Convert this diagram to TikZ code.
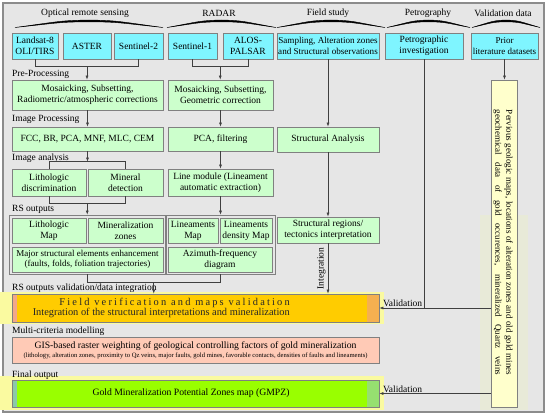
\documentclass[tikz,border=0pt]{standalone}
\usepackage{fontspec}
\setmainfont{Liberation Serif}
\usetikzlibrary{arrows.meta,calc,positioning}

\definecolor{bgcol}{HTML}{E6E6E6}
\definecolor{framecol}{HTML}{8C8C8C}
\definecolor{boxline}{HTML}{808080}
\definecolor{linecol}{HTML}{404040}
\definecolor{srccol}{HTML}{7FF5FF}
\definecolor{proccol}{HTML}{CCFFCC}
\definecolor{datacol}{HTML}{FFFFCC}
\definecolor{fieldcol}{HTML}{FFCC00}
\definecolor{fieldleft}{HTML}{F2A888}
\definecolor{fieldright}{HTML}{F5B050}
\definecolor{modcol}{HTML}{FFCAB6}
\definecolor{finalcol}{HTML}{99FF00}
\definecolor{finalleft}{HTML}{8CC8A8}
\definecolor{finalright}{HTML}{96E070}
\definecolor{hlcol}{HTML}{FAFAA0}
\definecolor{bandcol}{HTML}{E8EAD8}

\begin{document}
\begin{tikzpicture}[
  x=1pt, y=-1pt,
  every node/.style={inner sep=1pt, align=center, font=\fontsize{9.5}{11}\selectfont},
  srcbox/.style={draw=boxline, line width=0.8pt, fill=srccol, minimum height=26pt},
  procbox/.style={draw=boxline, line width=0.8pt, fill=proccol},
  grpbox/.style={draw=boxline, line width=0.6pt, inner sep=0pt},
  wide/.style={draw=boxline, line width=0.8pt, minimum width=367pt, inner sep=0pt},
  fieldbox/.style={wide, fill=fieldcol, path picture={
    \fill[fieldleft] (path picture bounding box.north west) rectangle ([xshift=5pt]path picture bounding box.south west);
    \fill[fieldright] ([xshift=-12pt]path picture bounding box.north east) rectangle (path picture bounding box.south east);}},
  finalbox/.style={wide, fill=finalcol, path picture={
    \fill[finalleft] (path picture bounding box.north west) rectangle ([xshift=5pt]path picture bounding box.south west);
    \fill[finalright] ([xshift=-12pt]path picture bounding box.north east) rectangle (path picture bounding box.south east);}},
  lbl/.style={anchor=west},
  arrow/.style={-{Latex[length=4pt,width=3pt]}, draw=linecol, line width=0.6pt},
  link/.style={draw=linecol, line width=0.6pt}
]
\useasboundingbox (0,0) rectangle (550,417);
\draw[framecol, line width=1.2pt, fill=bgcol] (3,3) rectangle (544,412);

% highlight bands behind the lower rows
\fill[hlcol] (0,292) rectangle (384,324);
\fill[hlcol] (0,376) rectangle (384,410);
\fill[bandcol] (480,215) rectangle (528,410);

% column headers
\node (hopt) at (85,13) {Optical remote sensing};
\node (hrad) at (219,13) {RADAR};
\node (hfield) at (328,13) {Field study};
\node (hpetro) at (428,13) {Petrography};
\node (hval) at (503,13) {Validation data};
\foreach \xa/\xb in {15/163, 167/276, 277/385, 387/470, 472/540} {
  \pgfmathsetmacro{\xm}{(\xa+\xb)/2}
  \pgfmathsetmacro{\wq}{0.3*(\xb-\xa)}
  \pgfmathsetmacro{\wm}{0.2*(\xb-\xa)}
  \fill[draw, line width=0.4pt] (\xa,27.5) .. controls (\xa+\wq,21.5) and (\xm-\wm,20.5) .. (\xm,20)
    .. controls (\xm+\wm,20.5) and (\xb-\wq,21.5) .. (\xb,27.5)
    .. controls (\xb-\wq,22.8) and (\xm+\wm,22) .. (\xm,21.8)
    .. controls (\xm-\wm,22) and (\xa+\wq,22.8) .. cycle;
}

% data sources
\node[srcbox, minimum width=46pt] (landsat) at (35,46) {Landsat-8\\OLI/TIRS};
\node[srcbox, minimum width=48pt] (aster) at (87,46) {ASTER};
\node[srcbox, minimum width=49pt] (sen2) at (138.5,46) {Sentinel-2};
\node[srcbox, minimum width=49pt] (sen1) at (192.5,46) {Sentinel-1};
\node[srcbox, minimum width=50pt] (alos) at (248,46) {ALOS-\\PALSAR};
\node[srcbox, minimum width=102pt, inner sep=0pt, font=\fontsize{9.1}{11}\selectfont] (sampling) at (328,46) {Sampling, Alteration zones\\and Structural observations};
\node[srcbox, minimum width=78pt] (petro) at (424,46) {Petrographic\\investigation};
\node[srcbox, minimum width=67pt, inner sep=0pt, font=\fontsize{9}{11}\selectfont] (prior) at (504.5,46) {Prior\\literature datasets};

% stage labels
\node[lbl] (lpre) at (11,74.5) {Pre-Processing};
\node[lbl] (limg) at (11,119) {Image Processing};
\node[lbl] (lana) at (11,158) {Image analysis};
\node[lbl] (lrs) at (11,209.5) {RS outputs};
\node[lbl] (lint) at (11,288) {RS outputs validation/data integration};
\node[lbl] (lmod) at (11,331.5) {Multi-criteria modelling};
\node[lbl] (lfin) at (11,375) {Final output};

% processing
\node[procbox, minimum width=151pt, minimum height=30pt] (preopt) at (87.5,95) {Mosaicking, Subsetting,\\Radiometric/atmospheric corrections};
\node[procbox, minimum width=105pt, minimum height=30pt] (prerad) at (220.5,95) {Mosaicking, Subsetting,\\Geometric correction};
\node[procbox, minimum width=151pt, minimum height=24pt] (imgopt) at (87.5,139) {FCC, BR, PCA, MNF, MLC, CEM};
\node[procbox, minimum width=105pt, minimum height=24pt] (imgrad) at (220.5,139) {PCA, filtering};
\node[procbox, minimum width=102pt, minimum height=25pt] (structan) at (328,139.5) {Structural Analysis};

% analysis
\node[procbox, minimum width=74pt, minimum height=27pt] (litho) at (49,182.5) {Lithologic\\discrimination};
\node[procbox, minimum width=75pt, minimum height=27pt] (mineral) at (125.5,182.5) {Mineral\\detection};
\node[procbox, minimum width=105pt, minimum height=27pt] (linemod) at (220.5,182.5) {Line module (Lineament\\automatic extraction)};

% RS outputs
\node[grpbox, minimum width=156pt, minimum height=59pt] (optgrp) at (87,244.5) {};
\node[grpbox, minimum width=109pt, minimum height=59pt] (radgrp) at (220.5,244.5) {};
\node[procbox, minimum width=74pt, minimum height=25pt] (litmap) at (49,230.5) {Lithologic\\Map};
\node[procbox, minimum width=75pt, minimum height=25pt] (minzone) at (125.5,230.5) {Mineralization\\zones};
\node[procbox, minimum width=151pt, minimum height=25pt, font=\fontsize{9}{10.5}\selectfont] (majstr) at (87.5,259.5) {Major structural elements enhancement\\(faults, folds, foliation trajectories)};
\node[procbox, minimum width=50pt, minimum height=25pt] (linmap) at (193,230.5) {Lineaments\\Map};
\node[procbox, minimum width=52pt, minimum height=25pt] (lindens) at (246,230.5) {Lineaments\\density Map};
\node[procbox, minimum width=104pt, minimum height=25pt] (azimuth) at (220,259.5) {Azimuth-frequency\\diagram};
\node[procbox, minimum width=102pt, minimum height=26pt] (structreg) at (328,230) {Structural regions/\\tectonics interpretation};

% integration, modelling, output
\node[fieldbox, minimum height=28pt] (fieldver) at (195.5,308) {};
\node[anchor=east, align=right, font=\fontsize{10.4}{10.6}\selectfont, text=black!85] (fvtext) at (291,308) {{\addfontfeature{LetterSpace=21}Field verification and maps validation}\hspace{-2pt}\\Integration of the structural interpretations and mineralization};
\node[wide, fill=modcol, minimum height=26pt, font=\fontsize{9.7}{9}\selectfont] (gis) at (195.5,350) {GIS-based raster weighting of geological controlling factors of gold mineralization\\{\fontsize{6.6}{8}\selectfont(lithology, alteration zones, proximity to Qz veins, major faults, gold mines, favorable contacts, densities of faults and lineaments)}};
\node[finalbox, minimum height=27pt] (gmpz) at (195.5,393.5) {};
\node[font=\fontsize{9.7}{12}\selectfont] (gmpztext) at (191,393.5) {Gold Mineralization Potential Zones map (GMPZ)};

% validation data
\node[draw=boxline, line width=0.8pt, fill=datacol, minimum width=26pt, minimum height=327pt, inner sep=0pt] (prevdata) at (504,243.5) {};
\node[rotate=-90, inner sep=0pt, font=\fontsize{9}{11}\selectfont] (prevtext) at (503,242.5) {\makebox[265pt][s]{Pervious geologic maps, locations of alteration zones and old gold mines}\\\makebox[265pt][s]{geochemical data of gold occurences, mineralized Quartz veins}};

% connectors
\draw[link] (landsat.south) -- ++(0,7) -| (sen2.south);
\draw[arrow] ($(aster.south)+(0,7)$) -- (aster.south |- preopt.north);
\draw[link] (sen1.south) -- ++(0,7) -| (alos.south);
\coordinate (radjoin) at ($(sen1.south)!.5!(alos.south)+(0,7)$);
\draw[arrow] (radjoin) -- (radjoin |- prerad.north);
\draw[arrow] (preopt) -- (imgopt);
\draw[arrow] (prerad) -- (imgrad);
\draw[arrow] (sampling) -- (structan);
\draw[arrow] (prior.south) -- (prior.south |- prevdata.north);

\draw[link] (litho.north) -- ++(0,-7) -| (mineral.north);
\coordinate (anatop) at ($(litho.north)!.5!(mineral.north)+(0,-7)$);
\draw[arrow] (imgopt.south) -- (imgopt.south |- anatop);
\draw[arrow] (imgrad) -- (linemod);
\draw[arrow] (structan) -- (structreg);

\draw[link] (litho.south) -- ++(0,7) -| (mineral.south);
\coordinate (anabot) at ($(litho.south)!.5!(mineral.south)+(0,7)$);
\draw[arrow] (anabot) -- (anabot |- optgrp.north);
\draw[arrow] (linemod) -- (radgrp);

\draw[link] (optgrp.south) -- ++(0,8) -| (radgrp.south);
\coordinate (rsjoin) at ($(optgrp.south)!.5!(radgrp.south)+(0,8)$);
\draw[arrow] (rsjoin) -- (rsjoin |- fieldver.north);
\draw[arrow] (structreg) -- node[midway, rotate=90, anchor=south, inner sep=2pt] (integ) {Integration} (structreg.south |- fieldver.north);

\draw[link] (petro) -- (petro.south |- fieldver.east);
\draw[arrow] (prevdata.west |- fieldver.east) -- (fieldver.east);
\draw[arrow] (prevdata.west |- gmpz.east) -- (gmpz.east);
\node[anchor=south west] (val1) at ([xshift=2.5pt]fieldver.east) {Validation};
\node[anchor=south west] (val2) at ([xshift=2.5pt]gmpz.east) {Validation};
\end{tikzpicture}
\end{document}
